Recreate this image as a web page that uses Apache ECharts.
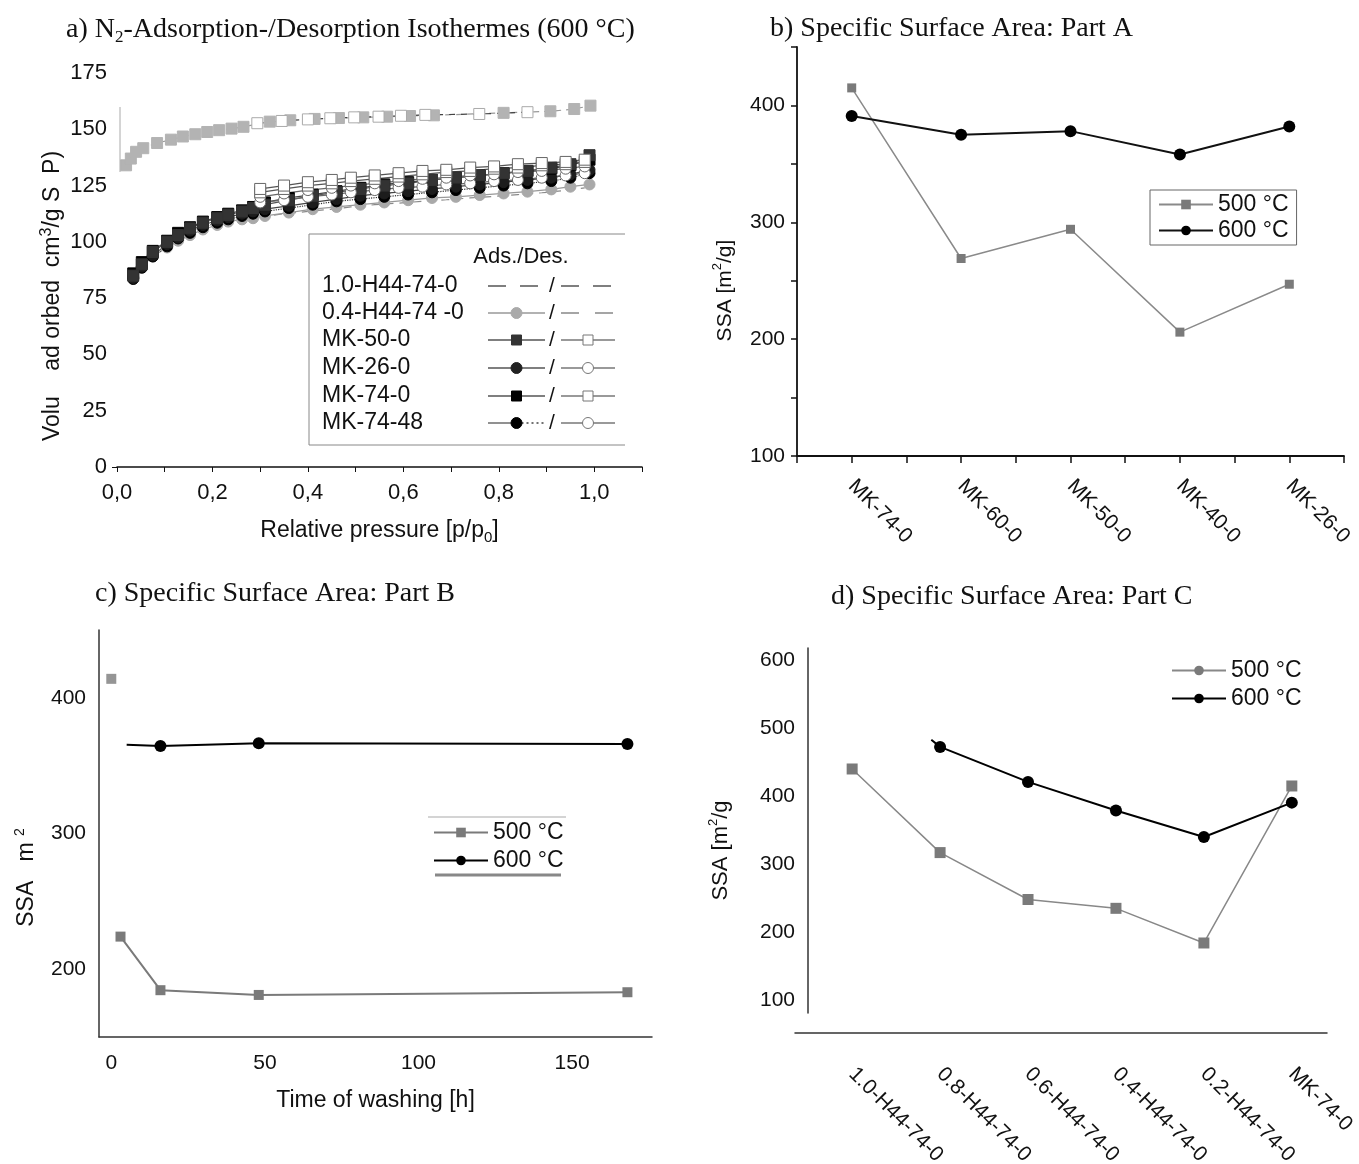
<!DOCTYPE html>
<html>
<head>
<meta charset="utf-8">
<script src="https://cdn.jsdelivr.net/npm/echarts@6/dist/echarts.min.js"></script>
<style>
html, body { margin: 0; padding: 0; background: #fff; }
#container { width: 1359px; height: 1164px; }
</style>
</head>
<body>
<div id="container"></div>
<script>
// a) N2 isotherms at 600 °C
var samplesA = ['1.0-H44-74-0', '0.4-H44-74 -0', 'MK-50-0', 'MK-26-0', 'MK-74-0', 'MK-74-48'];

var h10AdsP = [0.019, 0.029, 0.04, 0.055, 0.084, 0.113, 0.138, 0.164, 0.189, 0.214, 0.24, 0.265, 0.32, 0.363, 0.414, 0.465, 0.516, 0.566, 0.614, 0.664, 0.81, 0.908, 0.958, 0.992];
var h10AdsV = [134, 137, 140, 141.6, 143.9, 145.4, 146.8, 147.8, 148.8, 149.6, 150.3, 151.1, 153.4, 154, 154.6, 155, 155.3, 155.6, 155.9, 156.2, 157.3, 158, 159, 160.5];
var h10DesP = [0.294, 0.345, 0.4, 0.447, 0.497, 0.548, 0.595, 0.646, 0.759, 0.86];
var h10DesV = [152.7, 153.7, 154.4, 154.9, 155.3, 155.6, 156, 156.4, 156.8, 157.6];

var adsP = [0.034, 0.052, 0.075, 0.105, 0.128, 0.153, 0.18, 0.21, 0.233, 0.262, 0.285, 0.31, 0.36, 0.41, 0.46, 0.51, 0.56, 0.61, 0.66, 0.71, 0.76, 0.81, 0.86, 0.91, 0.95, 0.99];
var h04Ads = [84.5, 89, 93.5, 97.5, 100.5, 103, 105.5, 107.5, 109, 110, 110.5, 111.5, 113, 114.5, 115.5, 116.5, 117.5, 118.5, 119.5, 120, 120.8, 121.5, 122.3, 123.3, 124.5, 125.5];
var mk50Ads = [85, 90, 95.5, 100, 103, 106, 108.5, 110.5, 112, 113.5, 115, 116.5, 118.5, 120.5, 122, 123.5, 125, 126, 127.5, 128.5, 129.5, 130.5, 131.5, 133, 134.5, 138.5];
var mk26Ads = [84, 89, 94, 99, 102, 105, 107.5, 109.5, 111, 112.5, 113.5, 114.5, 116, 117.5, 119, 120.5, 121.5, 122.5, 123.5, 124.5, 125.5, 126.5, 127.5, 128.5, 130, 132];
var mk74Ads = [86, 91, 96, 100.5, 104, 106.5, 109, 111, 112.5, 114, 115.5, 117.5, 119.5, 121, 122.5, 124, 125.5, 126.5, 127.5, 128.5, 129.5, 130.5, 131.5, 132.5, 134, 136.5];
var mk7448Ads = [83.5, 88.5, 93.5, 98, 101.5, 104, 106.5, 108.5, 110, 111.5, 112.5, 113.5, 115, 116.5, 118, 119, 120, 121, 122, 123, 124, 125, 126, 127, 128.5, 130.5];

var desP = [0.30, 0.35, 0.40, 0.45, 0.49, 0.54, 0.59, 0.64, 0.69, 0.74, 0.79, 0.84, 0.89, 0.94, 0.98];
var h04Des = [111, 112.5, 113.5, 114.5, 115.5, 116.5, 117.2, 118, 118.7, 119.5, 120.2, 121, 121.8, 122.8, 124];
var mk50Des = [123.5, 125, 126.5, 127.5, 128.5, 129.5, 130.5, 131.5, 132, 133, 133.5, 134.5, 135, 135.5, 136.5];
var mk26Des = [120, 121.5, 123, 124, 125, 126, 127, 128, 128.5, 129.5, 130, 131, 131.5, 132.5, 133.5];
var mk74Des = [122, 123.5, 125, 126, 127, 128, 129, 130, 131, 131.5, 132.5, 133, 134, 134.5, 135.5];
var mk7448Des = [117.5, 118.5, 120, 121, 122, 123, 124, 124.5, 125.5, 126, 127, 127.5, 128.5, 129.5, 130.5];

// b) SSA part A
var partACats = ['MK-74-0', 'MK-60-0', 'MK-50-0', 'MK-40-0', 'MK-26-0'];
var partA500 = [415, 269, 294, 206, 247];
var partA600 = [391, 375, 378, 358, 382];

// c) SSA part B (washing time)
var washH500 = [0, 3, 16, 48, 168];
var partB500 = [414, 224, 184.5, 181, 183];
var washH600 = [5, 16, 48, 168];
var partB600 = [365.5, 364.5, 366.5, 366];

// d) SSA part C
var partCCats = ['1.0-H44-74-0', '0.8-H44-74-0', '0.6-H44-74-0', '0.4-H44-74-0', '0.2-H44-74-0', 'MK-74-0'];
var partC500 = [440, 317, 248, 235, 184, 415];
var partCPos600 = [0.9, 1, 2, 3, 4, 5];
var partC600 = [483, 472.5, 421, 379, 340, 390.5];

var FONT = 'Liberation Sans, Arial, sans-serif';
var SERIF = 'Liberation Serif, Times New Roman, serif';
var INK = '#111';

function pairs(xs, ys) {
    return xs.map(function (x, i) { return [x, ys[i]]; });
}
function supRich(size) {
    return {
        sup: { fontSize: size, fontFamily: FONT, color: INK, verticalAlign: 'top', lineHeight: 12 },
        sub: { fontSize: size, fontFamily: FONT, color: INK, verticalAlign: 'bottom', lineHeight: 12 }
    };
}
function isIdx(v) { return Math.abs(v - Math.round(v)) < 1e-6; }

function iso(name, xs, ys, sym, fill, border, line, dash) {
    return {
        name: name, type: 'line', xAxisIndex: 0, yAxisIndex: 0,
        data: pairs(xs, ys),
        symbol: sym || 'none', symbolSize: 11,
        itemStyle: { color: fill, borderColor: border, borderWidth: 1 },
        lineStyle: { color: line, width: 1.2, type: dash || 'solid' },
        z: 3
    };
}

var chart = echarts.init(document.getElementById('container'));

var axisLabelStyle = { fontSize: 21, fontFamily: FONT, color: INK };
var nameStyle = { fontSize: 23, fontFamily: FONT, color: INK, lineHeight: 28 };

// hand-made legend for panel a (ads / des keys)
var rowsY = [286, 313, 340, 368, 396, 423];
var keys = [
    { a: { c: '#555', d: [18, 14] }, b: { c: '#555', d: [18, 14] } },
    { a: { c: '#999', m: 'circle', f: '#aaa', s: '#aaa' }, b: { c: '#888', d: [18, 16] } },
    { a: { c: '#555', m: 'rect', f: '#333', s: '#333' }, b: { c: '#777', m: 'rect', f: '#fff', s: '#777' } },
    { a: { c: '#555', m: 'circle', f: '#222', s: '#222' }, b: { c: '#777', m: 'circle', f: '#fff', s: '#777' } },
    { a: { c: '#555', m: 'rect', f: '#000', s: '#000' }, b: { c: '#777', m: 'rect', f: '#fff', s: '#777' } },
    { a: { c: '#555', m: 'circle', f: '#000', s: '#000', tail: true }, b: { c: '#777', m: 'circle', f: '#fff', s: '#777' } }
];
function hline(x1, x2, y, color, dash, w) {
    return { type: 'line', shape: { x1: x1, y1: y, x2: x2, y2: y }, style: { stroke: color, lineWidth: w || 1.3, lineDash: dash || null } };
}
function mark(kind, x, y, fill, stroke) {
    if (kind === 'rect') {
        return { type: 'rect', shape: { x: x - 5, y: y - 5, width: 10, height: 10 }, style: { fill: fill, stroke: stroke, lineWidth: 1 } };
    }
    return { type: 'circle', shape: { cx: x, cy: y, r: 5.5 }, style: { fill: fill, stroke: stroke, lineWidth: 1 } };
}
function keyParts(k, x1, x2, y) {
    var out = [];
    var mid = (x1 + x2) / 2;
    if (k.tail) {
        out.push(hline(x1, mid, y, k.c));
        out.push(hline(mid, x2, y, '#444', [2, 3]));
    } else {
        out.push(hline(x1, x2, y, k.c, k.d));
    }
    if (k.m) out.push(mark(k.m, mid, y, k.f, k.s));
    return out;
}
var legendA = [
    { type: 'line', shape: { x1: 309, y1: 234, x2: 625, y2: 234 }, style: { stroke: '#888', lineWidth: 1 } },
    { type: 'line', shape: { x1: 309, y1: 445, x2: 625, y2: 445 }, style: { stroke: '#888', lineWidth: 1 } },
    { type: 'line', shape: { x1: 309, y1: 234, x2: 309, y2: 445 }, style: { stroke: '#888', lineWidth: 1 } },
    { type: 'line', shape: { x1: 120, y1: 107, x2: 120, y2: 172 }, style: { stroke: '#aaa', lineWidth: 1 } },
    { type: 'text', x: 521, y: 257, style: { text: 'Ads./Des.', font: '22px ' + FONT, fill: INK, textAlign: 'center', textVerticalAlign: 'middle' } }
];
samplesA.forEach(function (s, i) {
    var y = rowsY[i];
    legendA.push({ type: 'text', x: 322, y: y, style: { text: s, font: '23px ' + FONT, fill: INK, textVerticalAlign: 'middle' } });
    legendA = legendA.concat(keyParts(keys[i].a, 488, 545, y));
    legendA.push({ type: 'text', x: 552, y: y, style: { text: '/', font: '21px ' + FONT, fill: INK, textAlign: 'center', textVerticalAlign: 'middle' } });
    legendA = legendA.concat(keyParts(keys[i].b, 561, 615, y));
});

var titleStyle = { fontFamily: SERIF, fontSize: 28, fontWeight: 'normal', color: INK, lineHeight: 32 };
var legendText = { fontSize: 23, fontFamily: FONT, color: INK };

chart.setOption({
    animation: false,
    backgroundColor: '#fff',
    textStyle: { fontFamily: FONT },
    title: [
        { text: 'a) N{sub|2}-Adsorption-/Desorption Isothermes (600 °C)', left: 61, top: 9,
          textStyle: Object.assign({}, titleStyle, { rich: { sub: { fontFamily: SERIF, fontSize: 17, color: INK, verticalAlign: 'bottom', lineHeight: 16 } } }) },
        { text: 'b) Specific Surface Area: Part A', left: 765, top: 8, textStyle: titleStyle },
        { text: 'c) Specific Surface Area: Part B', left: 90, top: 573, textStyle: titleStyle },
        { text: 'd) Specific Surface Area: Part C', left: 826, top: 576, textStyle: titleStyle }
    ],
    grid: [
        { left: 117, top: 73, width: 525, height: 394, outerBoundsMode: 'none' },
        { left: 797, top: 47, width: 547, height: 409, outerBoundsMode: 'none' },
        { left: 99, top: 630, width: 553, height: 407, outerBoundsMode: 'none' },
        { left: 795, top: 648, width: 532, height: 365, outerBoundsMode: 'none' }
    ],
    legend: [
        { data: ['b|500 °C', 'b|600 °C'], left: 1150, top: 190, orient: 'vertical', selectedMode: false,
          formatter: function (n) { return n.split('|')[1]; },
          borderColor: '#666', borderWidth: 1, padding: [3, 8, 3, 8], itemGap: 3, itemWidth: 54, itemHeight: 12,
          textStyle: legendText },
        { data: ['c|500 °C', 'c|600 °C'], left: 433, top: 821, orient: 'vertical', selectedMode: false,
          formatter: function (n) { return n.split('|')[1]; },
          padding: 0, itemGap: 5, itemWidth: 54, itemHeight: 12,
          textStyle: legendText },
        { data: ['d|500 °C', 'd|600 °C'], left: 1171, top: 659, orient: 'vertical', selectedMode: false,
          formatter: function (n) { return n.split('|')[1]; },
          padding: 0, itemGap: 5, itemWidth: 54, itemHeight: 12,
          textStyle: legendText }
    ],
    graphic: legendA.concat([
        { type: 'line', shape: { x1: 428, y1: 817, x2: 566, y2: 817 }, style: { stroke: '#aaa', lineWidth: 1.2 } },
        { type: 'line', shape: { x1: 435, y1: 875, x2: 561, y2: 875 }, style: { stroke: '#888', lineWidth: 3 } }
    ]),
    xAxis: [
        { gridIndex: 0, type: 'value', min: 0, max: 1.1, interval: 0.1,
          axisLine: { onZero: false, lineStyle: { color: INK, width: 1.5 } },
          axisTick: { length: 5, lineStyle: { color: INK } },
          splitLine: { show: false },
          axisLabel: Object.assign({ margin: 15, fontSize: 22, formatter: function (v) {
              var k = Math.round(v * 10);
              return k % 2 === 0 ? (k / 10).toFixed(1).replace('.', ',') : '';
          } }, { fontFamily: FONT, color: INK }),
          name: 'Relative pressure [p/p{sub|0}]', nameLocation: 'middle', nameGap: 50,
          nameTextStyle: Object.assign({ rich: supRich(15) }, nameStyle) },
        { gridIndex: 1, type: 'value', min: -0.5, max: 4.5, interval: 0.5,
          axisLine: { onZero: false, lineStyle: { color: INK, width: 1.8 } },
          axisTick: { length: 7, lineStyle: { color: INK, width: 1.5 } },
          splitLine: { show: false },
          axisLabel: Object.assign({ rotate: -45, margin: 27, formatter: function (v) {
              return isIdx(v) && v >= 0 ? partACats[Math.round(v)] : '';
          } }, axisLabelStyle) },
        { gridIndex: 2, type: 'value', min: -4, max: 176,
          axisLine: { onZero: false, lineStyle: { color: '#333', width: 1.5 } },
          axisTick: { show: false },
          splitLine: { show: false },
          axisLabel: Object.assign({ margin: 16, customValues: [0, 50, 100, 150] }, axisLabelStyle),
          name: 'Time of washing [h]', nameLocation: 'middle', nameGap: 50,
          nameTextStyle: nameStyle },
        { gridIndex: 3, type: 'value', min: -0.65, max: 5.4, offset: 20,
          axisLine: { onZero: false, lineStyle: { color: '#333', width: 1.5 } },
          axisTick: { show: false },
          splitLine: { show: false },
          axisLabel: Object.assign({ rotate: -45, margin: 38, customValues: [0, 1, 2, 3, 4, 5],
              formatter: function (v) { return partCCats[Math.round(v)]; } }, axisLabelStyle) }
    ],
    yAxis: [
        { gridIndex: 0, type: 'value', min: 0, max: 175, interval: 25,
          axisLine: { show: false, onZero: false },
          axisTick: { show: true, customValues: [0], length: 5, lineStyle: { color: INK } },
          splitLine: { show: false },
          axisLabel: Object.assign({ margin: 10, fontSize: 22 }, { fontFamily: FONT, color: INK }),
          name: 'Volu    ad orbed  cm{sup|3}/g S  P)', nameLocation: 'middle', nameGap: 49,
          nameTextStyle: Object.assign({ rich: supRich(16), padding: [0, 52, 0, 0] }, nameStyle) },
        { gridIndex: 1, type: 'value', min: 100, max: 450, interval: 50,
          axisLine: { show: true, onZero: false, lineStyle: { color: INK, width: 1.8 } },
          axisTick: { show: true, length: 6, lineStyle: { color: INK, width: 1.5 } },
          splitLine: { show: false },
          axisLabel: Object.assign({ margin: 12, formatter: function (v) {
              return v % 100 === 0 && v < 450 ? String(v) : '';
          } }, axisLabelStyle),
          name: 'SSA [m{sup|2}/g]', nameLocation: 'middle', nameGap: 58,
          nameTextStyle: Object.assign({ rich: supRich(13), padding: [0, 78, 0, 0] }, nameStyle, { fontSize: 21 }) },
        { gridIndex: 2, type: 'value', min: 150, max: 450,
          axisLine: { show: true, onZero: false, lineStyle: { color: '#333', width: 1.5 } },
          axisTick: { show: false },
          splitLine: { show: false },
          axisLabel: Object.assign({ margin: 13, customValues: [200, 300, 400] }, axisLabelStyle),
          name: 'SSA   m {sup|2}', nameLocation: 'middle', nameGap: 58,
          nameTextStyle: Object.assign({ rich: supRich(14), padding: [0, 88, 0, 0] }, nameStyle) },
        { gridIndex: 3, type: 'value', min: 81, max: 618, offset: -13,
          axisLine: { show: true, onZero: false, lineStyle: { color: '#333', width: 1.5 } },
          axisTick: { show: false },
          splitLine: { show: false },
          axisLabel: Object.assign({ margin: 13, customValues: [100, 200, 300, 400, 500, 600] }, axisLabelStyle),
          name: 'SSA [m{sup|2}/g', nameLocation: 'middle', nameGap: 73,
          nameTextStyle: Object.assign({ rich: supRich(13), padding: [0, 40, 0, 0] }, nameStyle, { fontSize: 22 }) }
    ],
    series: [
        // panel a
        iso(samplesA[1] + ' des', desP, h04Des, 'none', '#999', '#999', '#8a8a8a', [8, 6]),
        iso(samplesA[1], adsP, h04Ads, 'circle', '#a9a9a9', '#a9a9a9', '#999'),
        iso(samplesA[5], adsP, mk7448Ads, 'circle', '#000', '#000', '#333', 'dotted'),
        iso(samplesA[3], adsP, mk26Ads, 'circle', '#1c1c1c', '#1c1c1c', '#444'),
        iso(samplesA[4], adsP, mk74Ads, 'rect', '#000', '#000', '#444'),
        iso(samplesA[2], adsP, mk50Ads, 'rect', '#333', '#333', '#555'),
        iso(samplesA[5] + ' des', desP, mk7448Des, 'circle', '#fff', '#666', '#666'),
        iso(samplesA[3] + ' des', desP, mk26Des, 'circle', '#fff', '#666', '#666'),
        iso(samplesA[4] + ' des', desP, mk74Des, 'rect', '#fff', '#666', '#555'),
        iso(samplesA[2] + ' des', desP, mk50Des, 'rect', '#fff', '#666', '#555'),
        iso(samplesA[0], h10AdsP, h10AdsV, 'rect', '#b3b3b3', '#b3b3b3', '#999', [6, 5]),
        iso(samplesA[0] + ' des', h10DesP, h10DesV, 'rect', '#fff', '#aaa', '#444', [6, 6]),
        // panel b
        { name: 'b|500 °C', type: 'line', xAxisIndex: 1, yAxisIndex: 1,
          data: partA500.map(function (v, i) { return [i, v]; }),
          symbol: 'rect', symbolSize: 9,
          itemStyle: { color: '#7a7a7a' }, lineStyle: { color: '#8a8a8a', width: 1.5 } },
        { name: 'b|600 °C', type: 'line', xAxisIndex: 1, yAxisIndex: 1,
          data: partA600.map(function (v, i) { return [i, v]; }),
          symbol: 'circle', symbolSize: 12,
          itemStyle: { color: '#000' }, lineStyle: { color: '#111', width: 2 } },
        // panel c
        { name: 'c|500 °C', type: 'line', xAxisIndex: 2, yAxisIndex: 2,
          data: pairs(washH500.slice(1), partB500.slice(1)),
          symbol: 'rect', symbolSize: 10,
          itemStyle: { color: '#7a7a7a' }, lineStyle: { color: '#7a7a7a', width: 2 } },
        { name: 'c|500 °C', type: 'scatter', xAxisIndex: 2, yAxisIndex: 2,
          data: pairs(washH500.slice(0, 1), partB500.slice(0, 1)),
          symbol: 'rect', symbolSize: 10, itemStyle: { color: '#7a7a7a' } },
        { name: 'c|600 °C', type: 'line', xAxisIndex: 2, yAxisIndex: 2,
          data: pairs(washH600, partB600).map(function (p, i) {
              return i === 0 ? { value: p, symbol: 'none' } : p;
          }),
          symbol: 'circle', symbolSize: 12,
          itemStyle: { color: '#000' }, lineStyle: { color: '#000', width: 2 } },
        // panel d
        { name: 'd|500 °C', type: 'line', xAxisIndex: 3, yAxisIndex: 3,
          data: partC500.map(function (v, i) { return { value: [i, v], symbol: 'rect' }; }),
          symbol: 'circle', symbolSize: 11,
          itemStyle: { color: '#7a7a7a' }, lineStyle: { color: '#888', width: 1.5 } },
        { name: 'd|600 °C', type: 'line', xAxisIndex: 3, yAxisIndex: 3,
          data: pairs(partCPos600, partC600).map(function (p, i) {
              return i === 0 ? { value: p, symbol: 'none' } : p;
          }),
          symbol: 'circle', symbolSize: 12,
          itemStyle: { color: '#000' }, lineStyle: { color: '#000', width: 2 } }
    ]
});
</script>
</body>
</html>
